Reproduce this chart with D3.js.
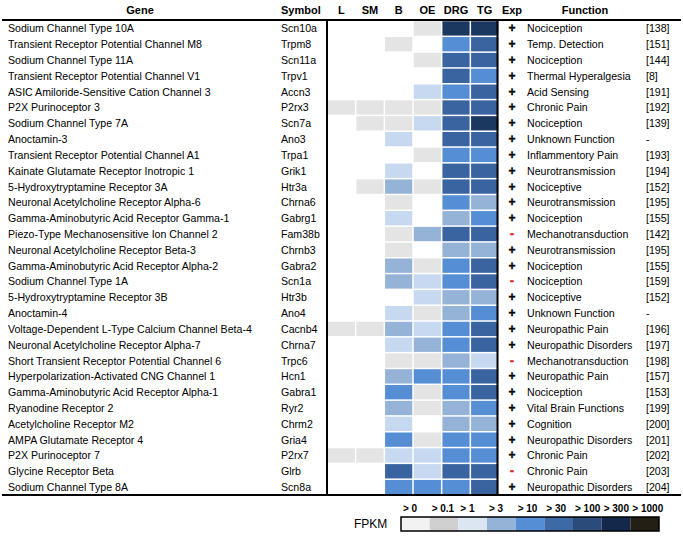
<!DOCTYPE html>
<html><head><meta charset="utf-8">
<script src="https://cdn.jsdelivr.net/npm/d3@7"></script>
<style>body{margin:0;background:#fff}text{font-family:"Liberation Sans",Arial,sans-serif}</style>
</head><body><svg id="c" width="683" height="540"></svg>
<script>
const genes = ["Sodium Channel Type 10A","Transient Receptor Potential Channel M8","Sodium Channel Type 11A","Transient Receptor Potential Channel V1","ASIC Amiloride-Sensitive Cation Channel 3","P2X Purinoceptor 3","Sodium Channel Type 7A","Anoctamin-3","Transient Receptor Potential Channel A1","Kainate Glutamate Receptor Inotropic 1","5-Hydroxytryptamine Receptor 3A","Neuronal Acetylcholine Receptor Alpha-6","Gamma-Aminobutyric Acid Receptor Gamma-1","Piezo-Type Mechanosensitive Ion Channel 2","Neuronal Acetylcholine Receptor Beta-3","Gamma-Aminobutyric Acid Receptor Alpha-2","Sodium Channel Type 1A","5-Hydroxytryptamine Receptor 3B","Anoctamin-4","Voltage-Dependent L-Type Calcium Channel Beta-4","Neuronal Acetylcholine Receptor Alpha-7","Short Transient Receptor Potential Channel 6","Hyperpolarization-Activated CNG Channel 1","Gamma-Aminobutyric Acid Receptor Alpha-1","Ryanodine Receptor 2","Acetylcholine Receptor M2","AMPA Glutamate Receptor 4","P2X Purinoceptor 7","Glycine Receptor Beta","Sodium Channel Type 8A"];
const symbols = ["Scn10a","Trpm8","Scn11a","Trpv1","Accn3","P2rx3","Scn7a","Ano3","Trpa1","Grik1","Htr3a","Chrna6","Gabrg1","Fam38b","Chrnb3","Gabra2","Scn1a","Htr3b","Ano4","Cacnb4","Chrna7","Trpc6","Hcn1","Gabra1","Ryr2","Chrm2","Gria4","P2rx7","Glrb","Scn8a"];
const tissues = ["L","SM","B","OE","DRG","TG"];
// expression level index per tissue (0 = none, 1 = >0.1, 2 = >1, 3 = >3, 4 = >10, 5 = >30, 6 = >100)
const levels = [
 [0,0,0,1,6,6],[0,0,1,0,4,5],[0,0,0,1,5,5],[0,0,0,0,5,4],[0,0,0,2,4,5],
 [1,1,1,1,5,5],[0,1,1,2,5,6],[0,0,2,0,5,5],[0,0,0,1,4,4],[0,0,2,0,5,5],
 [0,1,3,1,5,5],[0,0,1,0,4,3],[0,0,2,0,3,4],[0,0,1,3,5,5],[0,0,1,0,3,3],
 [0,0,3,1,4,5],[0,0,3,2,4,5],[0,0,0,2,3,3],[0,0,2,1,3,4],[1,1,3,2,4,5],
 [0,0,2,3,4,5],[0,0,1,1,3,2],[0,0,3,4,4,5],[0,0,4,1,4,5],[0,0,3,1,3,4],
 [0,0,2,0,3,3],[0,0,4,1,4,4],[1,1,2,2,4,4],[0,0,5,2,5,5],[0,0,4,4,4,5]];
const exp = ["+","+","+","+","+","+","+","+","+","+","+","+","+","-","+","+","-","+","+","+","+","-","+","+","+","+","+","+","-","+"];
const functions = ["Nociception","Temp. Detection","Nociception","Thermal Hyperalgesia","Acid Sensing","Chronic Pain","Nociception","Unknown Function","Inflammentory Pain","Neurotransmission","Nociceptive","Neurotransmission","Nociception","Mechanotransduction","Neurotransmission","Nociception","Nociception","Nociceptive","Unknown Function","Neuropathic Pain","Neuropathic Disorders","Mechanotransduction","Neuropathic Pain","Nociception","Vital Brain Functions","Cognition","Neuropathic Disorders","Chronic Pain","Chronic Pain","Neuropathic Disorders"];
const refs = ["[138]","[151]","[144]","[8]","[191]","[192]","[139]","-","[193]","[194]","[152]","[195]","[155]","[142]","[195]","[155]","[159]","[152]","-","[196]","[197]","[198]","[157]","[153]","[199]","[200]","[201]","[202]","[203]","[204]"];
const legendLabels = ["> 0","> 0.1","> 1","> 3","> 10","> 30","> 100","> 300","> 1000"];
const legendColors = ["#f2f2f2","#d0d0d0","#dce6f2","#95b3d7","#558ed5","#3d69a6","#2b4b7b","#13284b","#231f15"];
const cellColors = [null,"#e4e4e4","#c6d9f1","#95b3d7","#558ed5","#3a64a0","#1b3861"];

const svg = d3.select("#c");
const y = d3.scaleBand().domain(symbols).range([20.5, 495]);
const x = d3.scaleBand().domain(tissues).range([327, 499]);
const font = 10.6;

// header
const hdr = [["Gene",140,"middle"],["Symbol",281,"start"],["Exp",512,"middle"],["Function",585,"middle"]];
hdr.forEach(h=>svg.append("text").attr("x",h[1]).attr("y",14).attr("text-anchor",h[2]).attr("font-size",font+0.4).attr("font-weight","bold").text(h[0]));
svg.selectAll(".th").data(tissues).join("text").attr("x",d=>x(d)+x.bandwidth()/2).attr("y",14)
  .attr("text-anchor","middle").attr("font-size",font+0.4).attr("font-weight","bold").text(d=>d);

// cells
const cells = [];
levels.forEach((row,i)=>row.forEach((v,j)=>{ if(v>0) cells.push({s:symbols[i],t:tissues[j],v}); }));
svg.selectAll(".cell").data(cells).join("rect")
  .attr("x",d=>x(d.t)+0.75).attr("y",d=>y(d.s)+0.75)
  .attr("width",x.bandwidth()-1.5).attr("height",y.bandwidth()-1.5)
  .attr("fill",d=>cellColors[d.v]);

// row texts
const rowG = svg.selectAll(".row").data(symbols).join("g").attr("transform",d=>`translate(0,${y(d)+y.bandwidth()/2+4})`);
rowG.append("text").attr("x",8).attr("font-size",font).text((d,i)=>genes[i]);
rowG.append("text").attr("x",281).attr("font-size",font).text(d=>d);
rowG.append("text").attr("x",512).attr("text-anchor","middle").attr("font-size",12).attr("font-weight","bold")
  .attr("stroke",(d,i)=>exp[i]==="-"?"#e02020":"#000").attr("stroke-width",0.4)
  .attr("fill",(d,i)=>exp[i]==="-"?"#e02020":"#000").text((d,i)=>exp[i]);
rowG.append("text").attr("x",527).attr("font-size",font).text((d,i)=>functions[i]);
rowG.append("text").attr("x",646).attr("font-size",font).text((d,i)=>refs[i]);

// lines
svg.append("line").attr("x1",2).attr("x2",681).attr("y1",20).attr("y2",20).attr("stroke","#000").attr("stroke-width",2);
svg.append("line").attr("x1",2).attr("x2",681).attr("y1",495).attr("y2",495).attr("stroke","#000").attr("stroke-width",2);
svg.append("line").attr("x1",327).attr("x2",327).attr("y1",20).attr("y2",495).attr("stroke","#000").attr("stroke-width",2);
svg.append("line").attr("x1",497.5).attr("x2",497.5).attr("y1",20).attr("y2",495).attr("stroke","#000").attr("stroke-width",2);

// legend
const lx = d3.scaleBand().domain(legendLabels).range([401, 659]);
svg.selectAll(".lg").data(legendLabels).join("rect")
  .attr("x",d=>lx(d)).attr("y",517).attr("width",lx.bandwidth()).attr("height",14)
  .attr("fill",(d,i)=>legendColors[i]);
svg.append("rect").attr("x",401).attr("y",517).attr("width",258).attr("height",14).attr("fill","none").attr("stroke","#000").attr("stroke-width",1.5);
svg.selectAll(".ll").data(legendLabels).join("text")
  .attr("x",d=>lx(d)+2).attr("y",512).attr("font-size",10).attr("font-weight","bold").text(d=>d);
svg.append("text").attr("x",354).attr("y",528).attr("font-size",12).text("FPKM");
</script></body></html>
